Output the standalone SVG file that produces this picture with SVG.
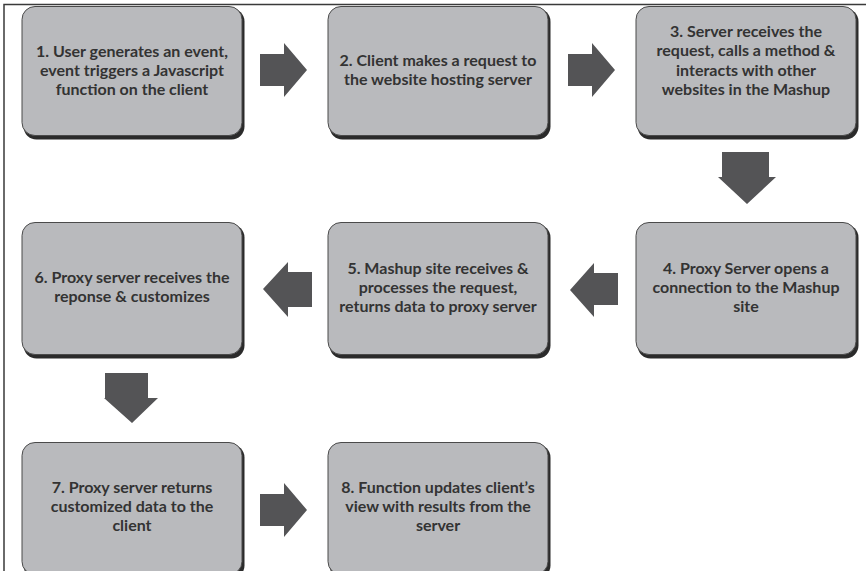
<svg xmlns="http://www.w3.org/2000/svg" width="866" height="571" viewBox="0 0 866 571">
<defs>
<style>
.frame{stroke:#3a3a3a;stroke-width:1.5;fill:none}
.sh{fill:#2b2b2b}
.box{fill:#b9babd;stroke:#4a4a4a;stroke-width:1}
.t{font-family:Lato,"Open Sans","Liberation Sans",sans-serif;font-weight:bold;font-size:16px;fill:#333;text-anchor:middle}
.arr{fill:#545456}
</style>
</defs>
<rect x="0" y="0" width="866" height="571" fill="#fff"/>
<path class="frame" d="M4,571 V4.5 H866"/>
<g id="node1"><rect class="sh" x="23.5" y="8.5" width="221" height="131" rx="13"/><rect class="box" x="22" y="6.5" width="220" height="129" rx="13"/>
<text class="t" x="132" y="57">1. User generates an event,</text><text class="t" x="132" y="76">event triggers a Javascript</text><text class="t" x="132" y="95">function on the client</text></g>
<g id="node2"><rect class="sh" x="329.5" y="8.5" width="221" height="131" rx="13"/><rect class="box" x="328" y="6.5" width="220" height="129" rx="13"/>
<text class="t" x="438" y="66">2. Client makes a request to</text><text class="t" x="438" y="85">the website hosting server</text></g>
<g id="node3"><rect class="sh" x="637.5" y="8.5" width="221" height="131" rx="13"/><rect class="box" x="636" y="6.5" width="220" height="129" rx="13"/>
<text class="t" x="746" y="37">3. Server receives the</text><text class="t" x="746" y="56">request, calls a method &amp;</text><text class="t" x="746" y="76">interacts with other</text><text class="t" x="746" y="95">websites in the Mashup</text></g>
<g id="node4"><rect class="sh" x="637.5" y="224.5" width="221" height="134" rx="13"/><rect class="box" x="636" y="222.5" width="220" height="132" rx="13"/>
<text class="t" x="746" y="274">4. Proxy Server opens a</text><text class="t" x="746" y="293">connection to the Mashup</text><text class="t" x="746" y="312">site</text></g>
<g id="node5"><rect class="sh" x="329.5" y="224.5" width="221" height="134" rx="13"/><rect class="box" x="328" y="222.5" width="220" height="132" rx="13"/>
<text class="t" x="438" y="274">5. Mashup site receives &amp;</text><text class="t" x="438" y="293">processes the request,</text><text class="t" x="438" y="312">returns data to proxy server</text></g>
<g id="node6"><rect class="sh" x="23.5" y="224.5" width="221" height="134" rx="13"/><rect class="box" x="22" y="222.5" width="220" height="132" rx="13"/>
<text class="t" x="132" y="283">6. Proxy server receives the</text><text class="t" x="132" y="302">reponse &amp; customizes</text></g>
<g id="node7"><rect class="sh" x="23.5" y="444.5" width="221" height="134" rx="13"/><rect class="box" x="22" y="442.5" width="220" height="132" rx="13"/>
<text class="t" x="132" y="493">7. Proxy server returns</text><text class="t" x="132" y="512">customized data to the</text><text class="t" x="132" y="531">client</text></g>
<g id="node8"><rect class="sh" x="329.5" y="444.5" width="221" height="134" rx="13"/><rect class="box" x="328" y="442.5" width="220" height="132" rx="13"/>
<text class="t" x="438" y="493">8. Function updates client’s</text><text class="t" x="438" y="512">view with results from the</text><text class="t" x="438" y="531">server</text></g>
<g id="connectors">
<polygon class="arr" points="260,54 284,54 284,43 307,70 284,97 284,86 260,86"/>
<polygon class="arr" points="568,54 592,54 592,43 615,70 592,97 592,86 568,86"/>
<polygon class="arr" points="722,152 769,152 769,177 776,177 747,204 718,177 722,177"/>
<polygon class="arr" points="312,272 288,272 288,262 263,289 288,317 288,307 312,307"/>
<polygon class="arr" points="618,273 594,273 594,263 570,290 594,317 594,305 618,305"/>
<polygon class="arr" points="105,373 148,373 148,398 158,398 132,423 104,398 105,398"/>
<polygon class="arr" points="260,494 284,494 284,483 307,510 284,537 284,526 260,526"/>
</g>
</svg>
